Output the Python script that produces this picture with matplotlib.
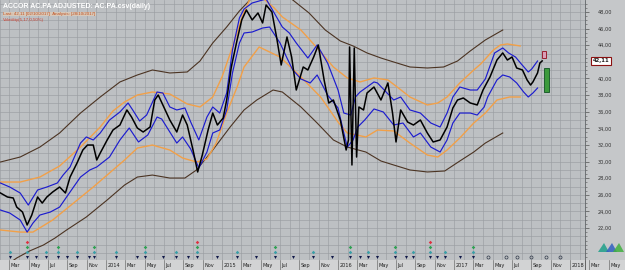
import matplotlib
matplotlib.use("Agg")
import matplotlib.pyplot as plt
from matplotlib.patches import Rectangle, Polygon
from matplotlib.transforms import blended_transform_factory

# ---- data (decimal years, price in EUR) ----
price_t = [2013.09, 2013.15, 2013.20, 2013.23, 2013.28, 2013.32, 2013.36, 2013.41, 2013.45, 2013.49,
           2013.54, 2013.60, 2013.65, 2013.69, 2013.75, 2013.80, 2013.84, 2013.89, 2013.92, 2013.95,
           2014.01, 2014.06, 2014.12, 2014.18, 2014.22, 2014.27, 2014.32, 2014.38, 2014.42, 2014.45,
           2014.49, 2014.55, 2014.61, 2014.66, 2014.70, 2014.75, 2014.79, 2014.83, 2014.88, 2014.92,
           2014.96, 2015.01, 2015.04, 2015.08, 2015.13, 2015.17, 2015.21, 2015.26, 2015.31, 2015.35,
           2015.38, 2015.43, 2015.47, 2015.51, 2015.56, 2015.60, 2015.64, 2015.70, 2015.74, 2015.79,
           2015.83, 2015.88, 2015.92, 2015.96, 2016.02, 2016.07, 2016.09, 2016.10, 2016.12, 2016.14,
           2016.16, 2016.18, 2016.22, 2016.25, 2016.31, 2016.37, 2016.43, 2016.47, 2016.50, 2016.54,
           2016.60, 2016.65, 2016.71, 2016.77, 2016.82, 2016.88, 2016.94, 2016.99, 2017.03, 2017.08,
           2017.14, 2017.20, 2017.25, 2017.31, 2017.37, 2017.42, 2017.46, 2017.50, 2017.54, 2017.59,
           2017.63, 2017.66, 2017.68, 2017.72, 2017.74, 2017.76]
price = [26.22, 25.74, 25.62, 24.53, 23.93, 22.37, 23.57, 25.74, 25.01, 25.74,
         26.34, 26.94, 26.22, 28.14, 29.83, 31.39, 31.99, 31.99, 30.19, 31.03,
         32.60, 33.80, 34.40, 36.21, 35.36, 34.04, 33.56, 34.16, 37.41, 38.01,
         36.81, 35.00, 33.56, 35.60, 34.40, 31.39, 28.75, 30.79, 33.80, 35.84,
         34.40, 35.24, 37.41, 41.38, 44.63, 47.04, 48.24, 47.04, 47.88, 46.68,
         48.84, 48.00, 44.99, 41.62, 44.99, 42.58, 38.61, 41.38, 41.02, 42.58,
         44.03, 39.82, 37.05, 37.41, 35.00, 31.39, 32.60, 43.79, 29.59, 43.67,
         30.55, 36.57, 36.21, 38.25, 38.97, 37.41, 39.46, 35.84, 32.36, 36.21,
         34.76, 34.40, 35.00, 33.44, 32.36, 32.60, 34.16, 36.45, 37.41, 37.65,
         37.05, 36.81, 38.61, 40.18, 42.22, 43.07, 42.22, 42.58, 41.26, 41.02,
         39.82, 39.21, 39.58, 40.66, 41.86, 42.11]
last_close = 42.11

blue_up_t = [2013.09, 2013.17, 2013.26, 2013.33, 2013.41, 2013.49, 2013.58, 2013.63, 2013.69, 2013.78,
             2013.83, 2013.89, 2013.95, 2014.03, 2014.12, 2014.19, 2014.23, 2014.29, 2014.35, 2014.44,
             2014.49, 2014.55, 2014.61, 2014.68, 2014.73, 2014.80, 2014.87, 2014.92, 2014.98, 2015.04,
             2015.09, 2015.15, 2015.19, 2015.26, 2015.38, 2015.45, 2015.52, 2015.58, 2015.64, 2015.74,
             2015.82, 2015.91, 2016.00, 2016.05, 2016.11, 2016.15, 2016.19, 2016.25, 2016.31, 2016.34,
             2016.39, 2016.48, 2016.54, 2016.62, 2016.71, 2016.80, 2016.88, 2016.94, 2016.99, 2017.05,
             2017.14, 2017.20, 2017.27, 2017.35, 2017.42, 2017.47, 2017.53, 2017.58, 2017.64, 2017.67,
             2017.72]
blue_up = [27.42, 26.94, 26.22, 24.77, 26.58, 26.94, 27.42, 28.38, 29.35, 32.23,
           32.96, 32.60, 33.44, 35.00, 35.97, 37.05, 36.21, 34.88, 35.60, 38.37,
           38.25, 36.57, 36.21, 36.45, 34.76, 32.60, 35.36, 36.57, 35.84, 38.25,
           43.43, 47.28, 48.36, 49.08, 49.56, 47.88, 46.19, 45.47, 44.27, 42.46,
           44.03, 41.86, 38.61, 35.84, 35.60, 37.77, 38.37, 38.97, 39.58, 39.46,
           38.73, 37.41, 37.77, 36.21, 35.84, 34.64, 34.16, 35.84, 37.77, 38.97,
           38.61, 38.61, 39.94, 43.07, 43.67, 43.07, 42.58, 41.74, 40.78, 41.14,
           42.10]

blue_lo_t = [2013.09, 2013.17, 2013.26, 2013.32, 2013.37, 2013.43, 2013.52, 2013.60, 2013.66, 2013.78,
             2013.86, 2013.92, 2014.03, 2014.12, 2014.20, 2014.28, 2014.36, 2014.44, 2014.48, 2014.55,
             2014.61, 2014.66, 2014.73, 2014.80, 2014.87, 2014.92, 2014.98, 2015.04, 2015.09, 2015.15,
             2015.19, 2015.26, 2015.35, 2015.41, 2015.50, 2015.56, 2015.61, 2015.68, 2015.76, 2015.82,
             2015.91, 2016.00, 2016.05, 2016.08, 2016.13, 2016.17, 2016.23, 2016.31, 2016.39, 2016.48,
             2016.56, 2016.65, 2016.71, 2016.80, 2016.88, 2016.94, 2016.99, 2017.05, 2017.14, 2017.20,
             2017.26, 2017.29, 2017.37, 2017.42, 2017.48, 2017.54, 2017.60, 2017.64, 2017.68, 2017.72]
blue_lo = [24.17, 23.81, 22.97, 21.52, 22.60, 23.57, 23.93, 24.53, 25.74, 28.14,
           28.99, 29.35, 30.55, 32.60, 34.04, 32.36, 33.20, 35.36, 35.12, 33.56,
           32.23, 32.96, 31.51, 29.23, 31.15, 33.44, 33.80, 36.21, 40.66, 44.27,
           45.47, 45.59, 46.07, 46.19, 44.27, 42.46, 41.02, 39.94, 39.46, 40.42,
           38.01, 36.45, 33.44, 31.75, 32.60, 34.16, 35.00, 36.33, 35.97, 34.40,
           34.64, 32.96, 33.44, 31.75, 31.15, 32.60, 34.64, 35.84, 35.84, 35.60,
           36.57, 37.77, 39.82, 40.42, 40.18, 39.46, 38.37, 37.77, 38.25, 38.85]

orange_up_t = [2013.09, 2013.26, 2013.43, 2013.60, 2013.78, 2013.95, 2014.06, 2014.16, 2014.27, 2014.40,
               2014.55, 2014.70, 2014.81, 2014.92, 2015.00, 2015.09, 2015.18, 2015.26, 2015.35, 2015.45,
               2015.52, 2015.68, 2015.82, 2015.96, 2016.08, 2016.19, 2016.31, 2016.43, 2016.51, 2016.62,
               2016.77, 2016.86, 2016.94, 2017.05, 2017.17, 2017.23, 2017.34, 2017.40, 2017.46, 2017.57]
orange_up = [27.54, 27.54, 28.14, 29.47, 31.75, 34.16, 36.09, 37.17, 38.01, 38.37,
             38.13, 36.93, 36.57, 37.77, 40.18, 43.79, 47.64, 50.17, 49.68, 48.48,
             47.40, 45.83, 43.67, 41.38, 40.06, 39.58, 40.06, 39.82, 38.97, 37.77,
             36.81, 37.05, 37.77, 39.46, 41.02, 41.74, 43.43, 44.03, 44.15, 43.91]

orange_lo_t = [2013.09, 2013.26, 2013.37, 2013.54, 2013.72, 2013.89, 2014.06, 2014.16, 2014.27, 2014.40,
               2014.55, 2014.66, 2014.78, 2014.87, 2014.95, 2015.04, 2015.13, 2015.19, 2015.32, 2015.50,
               2015.68, 2015.85, 2016.00, 2016.08, 2016.24, 2016.34, 2016.48, 2016.62, 2016.77, 2016.86,
               2016.94, 2017.05, 2017.17, 2017.27, 2017.37, 2017.48, 2017.57]
orange_lo = [21.77, 21.52, 21.52, 22.97, 25.01, 26.94, 28.99, 30.19, 31.63, 31.99,
             31.39, 30.43, 29.95, 30.31, 32.23, 35.84, 38.97, 41.38, 43.79, 42.58,
             40.18, 37.77, 34.76, 33.44, 32.96, 33.80, 33.68, 32.23, 30.79, 30.55,
             31.39, 32.84, 34.64, 35.84, 37.41, 37.77, 37.77]

brown_up_t = [2013.09, 2013.26, 2013.43, 2013.60, 2013.78, 2013.95, 2014.12, 2014.27, 2014.40, 2014.55,
              2014.70, 2014.81, 2014.92, 2015.04, 2015.15, 2015.24, 2015.34, 2015.45, 2015.54, 2015.61,
              2015.75, 2015.89, 2016.02, 2016.13, 2016.25, 2016.37, 2016.48, 2016.62, 2016.77, 2016.91,
              2017.03, 2017.14, 2017.27, 2017.42]
brown_up = [29.95, 30.55, 31.75, 33.44, 35.84, 37.77, 39.58, 40.42, 41.02, 40.66,
            40.78, 42.10, 44.27, 46.19, 48.12, 49.44, 50.53, 50.89, 50.17, 49.44,
            47.88, 45.83, 44.51, 43.91, 43.07, 42.46, 41.98, 41.38, 41.26, 41.38,
            42.10, 43.31, 44.63, 45.83]

brown_lo_t = [2013.13, 2013.23, 2013.34, 2013.46, 2013.56, 2013.66, 2013.83, 2014.01, 2014.16, 2014.27,
              2014.40, 2014.55, 2014.68, 2014.78, 2014.92, 2015.07, 2015.19, 2015.30, 2015.44, 2015.52,
              2015.68, 2015.82, 2015.96, 2016.08, 2016.24, 2016.37, 2016.48, 2016.62, 2016.77, 2016.92,
              2017.05, 2017.17, 2017.27, 2017.42]
brown_lo = [17.43, 18.40, 19.24, 19.96, 20.80, 21.77, 23.33, 25.38, 27.18, 28.14,
            28.38, 28.02, 28.02, 28.99, 31.39, 34.16, 36.21, 37.41, 38.61, 38.37,
            36.57, 34.64, 32.60, 31.75, 31.15, 30.07, 29.59, 28.99, 28.75, 28.87,
            30.07, 31.15, 32.23, 33.44]

# signal markers along the bottom of the chart
sig_dark = [2013.17, 2013.32, 2013.40, 2013.48, 2013.59, 2013.66, 2013.75, 2013.85, 2013.90, 2014.09,
            2014.27, 2014.34, 2014.49, 2014.60, 2014.71, 2014.78, 2014.96, 2015.13, 2015.29, 2015.46,
            2015.61, 2015.78, 2015.95, 2016.10, 2016.19, 2016.26, 2016.34, 2016.49, 2016.59, 2016.65,
            2016.79, 2016.85, 2016.92, 2017.05, 2017.16]
sig_teal = [2013.17, 2013.32, 2013.48, 2013.59, 2013.75, 2013.90, 2014.09, 2014.34, 2014.60, 2014.78,
            2015.13, 2015.46, 2015.78, 2016.10, 2016.26, 2016.49, 2016.65, 2016.79, 2016.92, 2017.16]
sig_green = [2013.32, 2013.59, 2013.90, 2014.34, 2014.78, 2015.46, 2016.10, 2016.49, 2016.79, 2017.16]
sig_red = [2013.32, 2014.78, 2016.79]
sig_future = [2017.29, 2017.45, 2017.54, 2017.66, 2017.79, 2017.91]

# projection boxes after the last bar: (t0, t1, low, high)
box_top = (2017.76, 2017.79, 42.46, 43.31)
box_green = (2017.775, 2017.82, 38.37, 41.26)

title = "ACCOR AC.PA ADJUSTED: AC.PA.csv(daily)"
info1 = "Last: 42,11 [02/10/2017]  Analysis: [28/10/2017]"
info2 = "Volatility(5,17,0,50%)"
month_names = {1: None, 3: "Mar", 5: "May", 7: "Jul", 9: "Sep", 11: "Nov"}

# ---- figure ----
W, H = 625, 270
fig = plt.figure(figsize=(W / 100, H / 100), dpi=100)
fig.patch.set_facecolor('#c5c7c9')

t0 = 2013.086
px_per_year = 116.0
strip_h = 10
ax = fig.add_axes([0, strip_h / H, 585 / W, (H - strip_h) / H])
ax.set_facecolor('#bdc0c3')
ax.set_xlim(t0, t0 + 585 / px_per_year)
ax.set_ylim(18.16, 49.44)

# grid: monthly verticals, 1.00 horizontals
grid_col = '#9a9ea2'
for yr in range(2013, 2019):
    for m in range(1, 13):
        ax.axvline(yr + (m - 1) / 12, color=grid_col, lw=0.45, zorder=0)
for v in range(19, 50):
    ax.axhline(v, color=grid_col, lw=0.45, zorder=0)

ax.plot(brown_up_t, brown_up, color='#4b3322', lw=0.8)
ax.plot(brown_lo_t, brown_lo, color='#4b3322', lw=0.8)
ax.plot(orange_up_t, orange_up, color='#f2a048', lw=1.0)
ax.plot(orange_lo_t, orange_lo, color='#f2a048', lw=1.0)
ax.plot(blue_up_t, blue_up, color='#1c1ccf', lw=0.85)
ax.plot(blue_lo_t, blue_lo, color='#1c1ccf', lw=0.85)
ax.plot(price_t, price, color='black', lw=1.1)

ax.add_patch(Rectangle((box_top[0], box_top[2]), box_top[1] - box_top[0], box_top[3] - box_top[2],
                       fc='#d9a0b8', ec='#9a2030', lw=0.7))
ax.add_patch(Rectangle((box_green[0], box_green[2]), box_green[1] - box_green[0],
                       box_green[3] - box_green[2], fc='#3c9a3c', ec='#1f5f2f', lw=0.7))

# signals
ax.plot(sig_dark, [18.52] * len(sig_dark), 'v', color='#101848', ms=2.2, mew=0)
ax.plot(sig_teal, [19.12] * len(sig_teal), 'D', color='#3aa0a8', ms=1.8, mew=0)
ax.plot(sig_green, [19.72] * len(sig_green), 'D', color='#2ca050', ms=1.8, mew=0)
ax.plot(sig_red, [20.32] * len(sig_red), 'D', color='#e03040', ms=1.8, mew=0)
ax.plot(sig_future, [18.52] * len(sig_future), 'o', mfc='none', mec='#303848', ms=2.2, mew=0.5)

# right price scale
ax.yaxis.tick_right()
ax.set_yticks([22, 24, 26, 28, 30, 32, 34, 36, 38, 40, 44, 46, 48])
ax.set_yticks([v / 2 for v in range(37, 99)], minor=True)
ax.set_yticklabels([f"{v:.2f}".replace('.', ',') for v in ax.get_yticks()])
ax.tick_params(axis='y', which='major', direction='out', length=3, width=0.5, color='#505050',
               labelsize=3.6, labelcolor='#303030', pad=6)
ax.tick_params(axis='y', which='minor', direction='out', length=1.5, width=0.4, color='#505050')
ax.set_xticks([])
for s in ['top', 'left', 'bottom']:
    ax.spines[s].set_visible(False)
ax.spines['right'].set_color('#606468')
ax.spines['right'].set_linewidth(0.6)

tr = blended_transform_factory(ax.transAxes, ax.transData)
ax.text(1.013, last_close, "42,11", transform=tr, ha='left', va='center', fontsize=3.8,
        weight='bold', color='#202020',
        bbox=dict(boxstyle='square,pad=0.25', fc='white', ec='#8b1010', lw=0.8))

# date strip
ax2 = fig.add_axes([0, 0, 1, strip_h / H])
ax2.set_facecolor('#d2d3d4')
ax2.set_xlim(t0, t0 + W / px_per_year)
ax2.set_ylim(0, 1)
ax2.set_xticks([])
ax2.set_yticks([])
for s in ax2.spines.values():
    s.set_visible(False)
for yr in range(2013, 2019):
    for m, name in month_names.items():
        tm = yr + (m - 1) / 12
        if tm < t0 or tm > t0 + W / px_per_year:
            continue
        label = str(yr) if name is None else name
        ax2.axvline(tm, color='#707070', lw=0.5)
        ax2.text(tm + 0.012, 0.45, label, fontsize=3.6, color='#202020', va='center', ha='left')
ax2.axvline(t0 + 585 / px_per_year, color='#505050', lw=0.6)

# header texts
fig.text(3 / W, 1 - 7 / H, title, fontsize=5, weight='bold', color='white',
         family='Liberation Sans', va='center', ha='left')
fig.text(3 / W, 1 - 14 / H, info1, fontsize=3.2, color='#c05020', family='Liberation Sans',
         va='center', ha='left',
         bbox=dict(boxstyle='square,pad=0.1', fc='#d8c8b8', ec='none'))
fig.text(3 / W, 1 - 20 / H, info2, fontsize=3.2, color='#d04030', family='Liberation Sans',
         va='center', ha='left')

# small logo bottom right
for pts, col in [([(598, 252), (604, 243), (609, 252)], '#1fa08a'),
                 ([(606, 252), (612, 243), (617, 252)], '#3060c0'),
                 ([(613, 252), (619, 243), (624, 252)], '#40b040')]:
    fig.add_artist(Polygon([(x / W, 1 - y / H) for x, y in pts], closed=True, fc=col, ec='none',
                           alpha=0.85, transform=fig.transFigure))

fig.savefig('out.png', dpi=100, facecolor=fig.get_facecolor())
